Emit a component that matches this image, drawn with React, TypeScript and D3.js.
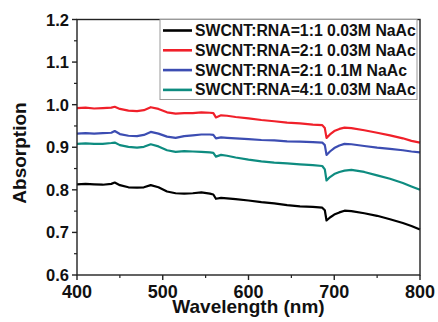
import { useRef, useEffect } from "react";
import * as d3 from "d3";

// wavelength grid (nm), shared by all four spectra
const wavelengths = [400, 410, 420, 430, 440, 444, 450, 460, 470, 478, 486, 495, 505, 515, 525, 535, 545, 555, 559, 562, 568, 575, 585, 600, 615, 630, 645, 660, 675, 686, 689, 691, 695, 700, 706, 712, 720, 735, 750, 765, 780, 790, 800];

const ratio11 = [0.813, 0.814, 0.813, 0.812, 0.814, 0.817, 0.811, 0.806, 0.805, 0.806, 0.811, 0.806, 0.796, 0.792, 0.791, 0.792, 0.794, 0.791, 0.789, 0.779, 0.781, 0.780, 0.778, 0.775, 0.771, 0.768, 0.764, 0.761, 0.760, 0.758, 0.752, 0.728, 0.735, 0.742, 0.747, 0.751, 0.750, 0.745, 0.739, 0.731, 0.722, 0.715, 0.707];
const ratio21 = [0.992, 0.993, 0.991, 0.992, 0.993, 0.995, 0.990, 0.986, 0.985, 0.987, 0.994, 0.990, 0.982, 0.979, 0.980, 0.980, 0.982, 0.981, 0.980, 0.970, 0.975, 0.974, 0.971, 0.968, 0.964, 0.961, 0.958, 0.956, 0.953, 0.952, 0.945, 0.922, 0.930, 0.938, 0.943, 0.946, 0.945, 0.940, 0.934, 0.928, 0.921, 0.915, 0.911];
const ratio21salt = [0.932, 0.933, 0.932, 0.933, 0.934, 0.938, 0.931, 0.927, 0.926, 0.929, 0.936, 0.932, 0.925, 0.922, 0.926, 0.928, 0.930, 0.930, 0.929, 0.921, 0.923, 0.922, 0.921, 0.919, 0.917, 0.916, 0.914, 0.913, 0.912, 0.911, 0.905, 0.882, 0.890, 0.898, 0.904, 0.908, 0.907, 0.903, 0.899, 0.896, 0.893, 0.890, 0.888];
const ratio41 = [0.908, 0.909, 0.908, 0.908, 0.910, 0.911, 0.905, 0.901, 0.899, 0.901, 0.907, 0.902, 0.893, 0.889, 0.891, 0.890, 0.889, 0.888, 0.887, 0.878, 0.882, 0.880, 0.876, 0.871, 0.867, 0.864, 0.862, 0.860, 0.858, 0.856, 0.848, 0.822, 0.830, 0.837, 0.842, 0.845, 0.847, 0.842, 0.834, 0.826, 0.816, 0.808, 0.800];

const labels = ["SWCNT:RNA=1:1 0.03M NaAc", "SWCNT:RNA=2:1 0.03M NaAc", "SWCNT:RNA=2:1 0.1M NaAc", "SWCNT:RNA=4:1 0.03M NaAc"];
const colors = ["#000000", "#f0202a", "#3c4db2", "#0e8c80"];
const seriesValues = [ratio11, ratio21, ratio21salt, ratio41];

const xTicks = [400, 500, 600, 700, 800];
const xMinor = [450, 550, 650, 750];
const yTicks = [0.6, 0.7, 0.8, 0.9, 1.0, 1.1, 1.2];
const yMinor = [0.65, 0.75, 0.85, 0.95, 1.05, 1.15];

export default function App() {
  const svgRef = useRef<SVGSVGElement>(null);
  const W = 438, H = 322;

  useEffect(() => {
    if (!svgRef.current) return;
    const svg = d3.select(svgRef.current);
    svg.selectAll("*").remove();

    const m = { left: 77, right: 420, top: 19.5, bottom: 275 };
    const x = d3.scaleLinear().domain([400, 800]).range([m.left, m.right]);
    const y = d3.scaleLinear().domain([0.6, 1.2]).range([m.bottom, m.top]);
    const font = "'Liberation Sans', Arial, sans-serif";

    // spectra
    const line = d3.line<number>().x((_, i) => x(wavelengths[i])).y(d => y(d));
    seriesValues.forEach((vals, k) => {
      svg.append("path").datum(vals)
        .attr("fill", "none").attr("stroke", colors[k]).attr("stroke-width", 2.2)
        .attr("stroke-linejoin", "round").attr("d", line);
    });

    // frame
    svg.append("rect")
      .attr("x", m.left).attr("y", m.top).attr("width", m.right - m.left).attr("height", m.bottom - m.top)
      .attr("fill", "none").attr("stroke", "#222").attr("stroke-width", 1.4);

    // x axis ticks
    xTicks.forEach(t => {
      svg.append("line").attr("x1", x(t)).attr("x2", x(t)).attr("y1", m.bottom).attr("y2", m.bottom + 5)
        .attr("stroke", "#222").attr("stroke-width", 1.4);
      svg.append("text").attr("x", x(t)).attr("y", m.bottom + 23)
        .attr("text-anchor", "middle").attr("font-family", font).attr("font-weight", "bold").attr("font-size", 18)
        .attr("fill", "#111").text(t);
    });
    xMinor.forEach(t => {
      svg.append("line").attr("x1", x(t)).attr("x2", x(t)).attr("y1", m.bottom).attr("y2", m.bottom + 3)
        .attr("stroke", "#222").attr("stroke-width", 1.2);
    });

    // y axis ticks
    yTicks.forEach(t => {
      svg.append("line").attr("x1", m.left - 5).attr("x2", m.left).attr("y1", y(t)).attr("y2", y(t))
        .attr("stroke", "#222").attr("stroke-width", 1.4);
      svg.append("text").attr("x", m.left - 8).attr("y", y(t) + 6)
        .attr("text-anchor", "end").attr("font-family", font).attr("font-weight", "bold").attr("font-size", 16.5)
        .attr("fill", "#111").text(t.toFixed(1));
    });
    yMinor.forEach(t => {
      svg.append("line").attr("x1", m.left - 3).attr("x2", m.left).attr("y1", y(t)).attr("y2", y(t))
        .attr("stroke", "#222").attr("stroke-width", 1.2);
    });

    // axis titles
    svg.append("text").attr("x", (m.left + m.right) / 2).attr("y", 313)
      .attr("text-anchor", "middle").attr("font-family", font).attr("font-weight", "bold").attr("font-size", 19)
      .attr("fill", "#111").text("Wavelength (nm)");
    svg.append("text").attr("transform", `translate(26,${153}) rotate(-90)`)
      .attr("text-anchor", "middle").attr("font-family", font).attr("font-weight", "bold").attr("font-size", 19)
      .attr("fill", "#111").text("Absorption");

    // legend
    const lg = svg.append("g");
    lg.append("rect").attr("x", 160).attr("y", m.top).attr("width", 257).attr("height", 80)
      .attr("fill", "white").attr("stroke", "#999").attr("stroke-width", 1);
    labels.forEach((lab, k) => {
      const ly = 30.5 + k * 19.8;
      lg.append("line").attr("x1", 163).attr("x2", 192).attr("y1", ly).attr("y2", ly)
        .attr("stroke", colors[k]).attr("stroke-width", 2.6);
      lg.append("text").attr("x", 195).attr("y", ly + 5.5)
        .attr("font-family", font).attr("font-weight", "bold").attr("font-size", 15.8)
        .attr("fill", "#111").text(lab);
    });
  }, []);

  return (
    <svg ref={svgRef} width={W} height={H}
      style={{ position: "fixed", left: 0, top: 0, background: "white" }} />
  );
}
